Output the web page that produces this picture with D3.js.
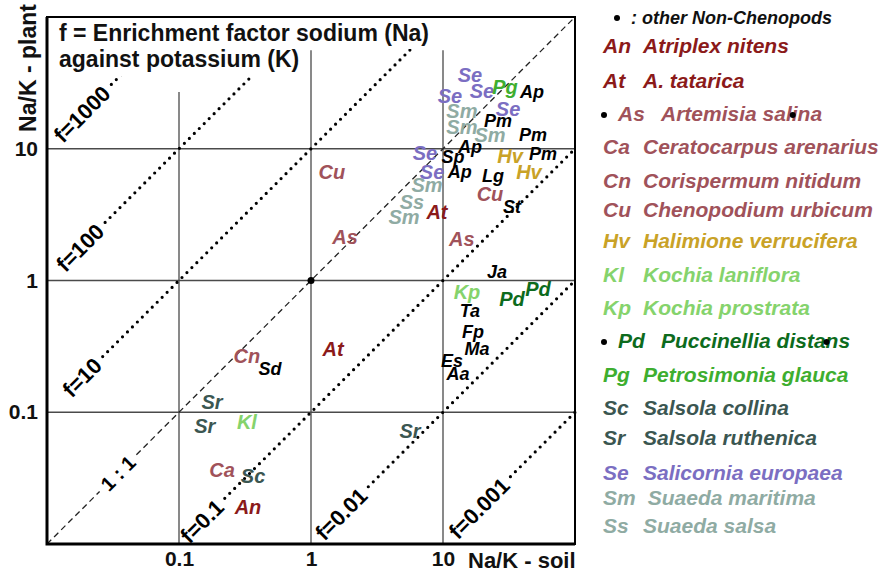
<!DOCTYPE html>
<html><head><meta charset="utf-8">
<script src="https://cdn.jsdelivr.net/npm/d3@7"></script>
<style>
body{margin:0;background:#fff}
svg{display:block}
text{font-family:"Liberation Sans",Arial,Helvetica,sans-serif}
</style>
</head><body>
<svg id="chart" width="882" height="575"></svg>
<script>
// ---- data ----
const pointCodes = ["Se","Se","Se","Pg","Ap","Se","Sm","Pm","Sm","Sm","Pm","Se","Ap","Sp","Hv","Pm","Se","Ap","Lg","Hv","Sm","Cu","Ss","At","St","Sm","Cu","As","As","Ja","Kp","Pd","Pd","Ta","Fp","Ma","Es","Aa","At","Cn","Sd","Sr","Sr","Kl","Ca","Sc","An","Sr"];
const soilNaK  = [16.0,11.3,19.7,29.5,47.2,31.1,13.9,26.1,13.9,22.7,48.1,7.3,16.0,11.9,32.2,57.3,8.26,13.4,23.9,44.8,7.56,22.7,5.82,9.0,33.3,5.07,1.44,1.81,13.9,25.7,15.2,33.3,52.5,16.0,16.9,18.1,11.7,13.0,1.47,0.327,0.489,0.178,0.157,0.327,0.212,0.364,0.333,5.62];
const plantNaK = [36.2,25.1,27.4,29.4,27.4,20.0,19.3,16.5,14.8,12.7,12.9,9.24,10.4,8.77,8.77,9.24,6.74,6.74,6.29,6.74,5.28,4.59,3.99,3.35,3.65,3.07,6.74,2.16,2.09,1.17,0.825,0.730,0.869,0.591,0.409,0.304,0.246,0.196,0.304,0.269,0.214,0.120,0.0789,0.0847,0.0365,0.0329,0.0191,0.0723];

const speciesCodes  = ["An","At","As","Ca","Cn","Cu","Hv","Kl","Kp","Pd","Pg","Sc","Sr","Se","Sm","Ss"];
const speciesNames  = ["Atriplex nitens","A. tatarica","Artemisia salina","Ceratocarpus arenarius","Corispermum nitidum","Chenopodium urbicum","Halimione verrucifera","Kochia laniflora","Kochia prostrata","Puccinellia distans","Petrosimonia glauca","Salsola collina","Salsola ruthenica","Salicornia europaea","Suaeda maritima","Suaeda salsa"];
const speciesColors = ["#8b1a1a","#8b1a1a","#a0525a","#a0525a","#a0525a","#a0525a","#c9a227","#85d36c","#85d36c","#0d6b1d","#3eae2f","#3b5651","#3b5651","#7b6ec2","#8faba3","#8faba3"];
const nonChenopodSpecies = ["As","Pd"];
const otherLabel = ": other Non-Chenopods";

const enrichmentFactors = [1000,100,10,0.1,0.01,0.001];
const factorLabels = ["f=1000","f=100","f=10","f=0.1","f=0.01","f=0.001"];
const factorLabelSoil = [0.0184,0.0178,0.0184,0.149,1.69,18.7];
const oneToOneLabelSoil = 0.0345;

const tickValues = [0.1,1,10];
const tickLabels = ["0.1","1","10"];
const titleLines = ["f = Enrichment factor sodium (Na)","against potassium (K)"];

// ---- layout ----
const svg = d3.select("#chart");
const L=47,R=575,T=17,B=544;
const x = d3.scaleLog().domain([0.01,100]).range([L,R]);
const y = d3.scaleLog().domain([0.01,100]).range([B,T]);
const gridColor = "#4a4a4a";

// grid lines
tickValues.forEach(v=>{
  svg.append("line").attr("x1",L).attr("x2",R).attr("y1",y(v)).attr("y2",y(v))
    .attr("stroke",gridColor).attr("stroke-width",1.3);
});
const vTop = {0.1:27, 1:56, 10:56};
tickValues.forEach(v=>{
  svg.append("line").attr("x1",x(v)).attr("x2",x(v)).attr("y1",y(vTop[v])).attr("y2",B)
    .attr("stroke",gridColor).attr("stroke-width",1.3);
});

// enrichment factor dotted lines with labels
enrichmentFactors.forEach((f,i)=>{
  const s1 = Math.min(100, 100/f);
  const sl = factorLabelSoil[i];
  const cx = x(sl), cy = y(sl*f);
  const t = svg.append("text").attr("transform",`translate(${cx},${cy}) rotate(-45)`)
    .attr("text-anchor","middle").attr("dy","0.36em")
    .attr("font-size",22).attr("font-weight","bold").text(factorLabels[i]);
  const half = t.node().getComputedTextLength()/2 + 7;
  const sx = cx + half/Math.SQRT2, sy = cy - half/Math.SQRT2;
  svg.append("line").attr("x1",sx).attr("y1",sy).attr("x2",x(s1)).attr("y2",y(s1*f))
    .attr("stroke","#000").attr("stroke-width",3.2).attr("stroke-linecap","round")
    .attr("stroke-dasharray","0 7");
});

// 1:1 dashed line
{
  const cx = x(oneToOneLabelSoil), cy = y(oneToOneLabelSoil);
  const t = svg.append("text").attr("transform",`translate(${cx},${cy}) rotate(-45)`)
    .attr("text-anchor","middle").attr("dy","0.36em")
    .attr("font-size",20).attr("font-weight","bold").text("1 : 1");
  const half = t.node().getComputedTextLength()/2 + 6;
  const d = half/Math.SQRT2;
  svg.append("line").attr("x1",x(0.01)).attr("y1",y(0.01)).attr("x2",cx-d).attr("y2",cy+d)
    .attr("stroke","#222").attr("stroke-width",1.3).attr("stroke-dasharray","6 4");
  svg.append("line").attr("x1",cx+d).attr("y1",cy-d).attr("x2",x(100)).attr("y2",y(100))
    .attr("stroke","#222").attr("stroke-width",1.3).attr("stroke-dasharray","6 4");
}

// central marker
svg.append("circle").attr("cx",x(1)).attr("cy",y(1)).attr("r",3.5).attr("fill","#000");

// title with white background
svg.append("rect").attr("x",L+1).attr("y",T+1).attr("width",399).attr("height",31).attr("fill","#fff");
svg.append("rect").attr("x",L+1).attr("y",T+31).attr("width",257).attr("height",28).attr("fill","#fff");
titleLines.forEach((s,i)=>{
  svg.append("text").attr("x",59).attr("y",41+i*26).attr("font-size",23).attr("font-weight","bold")
    .attr("fill","#111").text(s);
});

// frame
svg.append("rect").attr("x",L).attr("y",T).attr("width",R-L).attr("height",B-T)
  .attr("fill","none").attr("stroke","#000").attr("stroke-width",2);
svg.append("path").attr("d",`M${L},${T}V${B}H${R}`).attr("fill","none").attr("stroke","#000").attr("stroke-width",3);

// axes
const xAxis = d3.axisBottom(x).tickValues(tickValues).tickFormat((d,i)=>tickLabels[i]).tickSize(0).tickPadding(7);
const gx = svg.append("g").attr("transform",`translate(0,${B})`).call(xAxis);
const yAxis = d3.axisLeft(y).tickValues(tickValues).tickFormat((d,i)=>tickLabels[i]).tickSize(0).tickPadding(9);
const gy = svg.append("g").attr("transform",`translate(${L},0)`).call(yAxis);
[gx,gy].forEach(g=>{
  g.select(".domain").remove();
  g.selectAll("text").attr("font-size",21).attr("font-weight","bold").attr("fill","#111")
    .attr("font-family","'Liberation Sans',Arial,sans-serif");
});
svg.append("text").attr("x",468).attr("y",568).attr("font-size",22).attr("font-weight","bold").attr("fill","#111").text("Na/K - soil");
svg.append("text").attr("transform","translate(36,68) rotate(-90)").attr("text-anchor","middle")
  .attr("font-size",23).attr("font-weight","bold").attr("fill","#111").text("Na/K - plant");

// point labels
const colorOf = c => { const i = speciesCodes.indexOf(c); return i<0 ? "#000" : speciesColors[i]; };
svg.append("g").selectAll("text").data(pointCodes).join("text")
  .attr("x",(d,i)=>x(soilNaK[i])).attr("y",(d,i)=>y(plantNaK[i])).attr("dy","0.36em")
  .attr("text-anchor","middle").attr("font-style","italic").attr("font-weight","bold")
  .attr("font-size",d=>speciesCodes.includes(d)?20:18)
  .attr("fill",d=>colorOf(d)).text(d=>d);

// legend
const legendRowY = [53,88,121,154,188,217,248,282,315,348,382,415,445,480,505,533];
const lg = svg.append("g");
lg.append("circle").attr("cx",617).attr("cy",18).attr("r",3).attr("fill","#000");
lg.append("text").attr("x",631).attr("y",24).attr("font-size",18).attr("font-style","italic").attr("font-weight","bold").attr("fill","#111").text(otherLabel);
const strayIdx = {As:13, Pd:17};
speciesCodes.forEach((c,i)=>{
  const marked = nonChenopodSpecies.includes(c);
  const yy = legendRowY[i];
  const cx0 = marked ? 618 : 603;
  const common = s => s.attr("font-size",21).attr("font-style","italic").attr("font-weight","bold").attr("fill",speciesColors[i]);
  const ct = common(lg.append("text").attr("x",cx0).attr("y",yy).text(c));
  const nx = Math.max(marked ? 661 : 643, cx0 + ct.node().getComputedTextLength() + 12);
  const nt = common(lg.append("text").attr("x",nx).attr("y",yy).text(speciesNames[i]));
  if(marked){
    lg.append("circle").attr("cx",604).attr("cy",yy-6).attr("r",3).attr("fill","#000");
    const off = nt.node().getSubStringLength(0,strayIdx[c]);
    lg.append("circle").attr("cx",nx+off+1).attr("cy",yy-6).attr("r",3).attr("fill","#000");
  }
});
</script>
</body></html>
